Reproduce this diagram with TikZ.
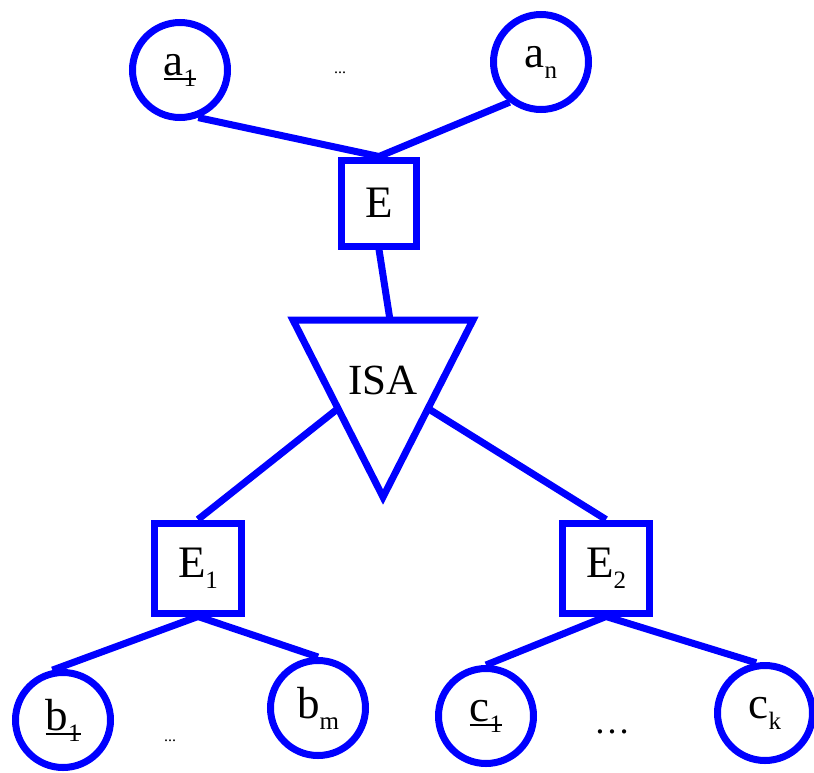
\documentclass[tikz,border=0pt]{standalone}
\usepackage{fontspec}
\setmainfont{Liberation Serif}
\usetikzlibrary{calc}
\newcommand\subs[1]{\raisebox{-11pt}{\fontsize{25}{25}\selectfont #1}}
\newcommand\ulsub[2]{\sbox0{#1\subs{#2}}\rlap{\rule[-5pt]{\wd0}{2pt}}\usebox0}
\begin{document}
\begin{tikzpicture}[x=1pt,y=-1pt,
  txt/.style={font=\fontsize{45}{48}\selectfont},
  ent/.style={draw=blue, line width=7pt, fill=white, inner sep=0pt, txt},
  attr/.style={circle, draw=blue, line width=7pt, fill=white, minimum size=95pt, inner sep=0pt, txt},
  conn/.style={draw=blue, line width=7pt},
  dotsa/.style={font=\fontsize{16}{18}\selectfont, inner sep=0pt}]
\useasboundingbox (0,0) rectangle (814,772);
% attributes of E
\node[attr] (a1) at (180,70) {\ulsub{a}{1}};
\node[attr] (an) at (541,62) {a\subs{n}};
\node[dotsa] (d1) at (340,73) {...};
% entity E
\node[ent, minimum width=75pt, minimum height=86pt] (E) at (379,203) {E};
% ISA triangle
\coordinate (T1) at (293,320);
\coordinate (T2) at (473,320);
\coordinate (T3) at (383,497);
\coordinate (Ttop) at (390,320);
\coordinate (TL) at ($(T1)!0.5!(T3)$);
\coordinate (TR) at ($(T2)!0.5!(T3)$);
\draw[conn, fill=white, line join=miter] (T1) -- (T2) -- (T3) -- cycle;
\node[font=\fontsize{43}{46}\selectfont, inner sep=0pt] (isa) at (383,380) {ISA};
% sub entities
\node[ent, minimum width=87pt, minimum height=90pt] (E1) at (198,568) {E\subs{1}};
\node[ent, minimum width=87pt, minimum height=90pt] (E2) at (606,568) {E\subs{2}};
% attributes of E1, E2
\node[attr] (b1) at (63,720) {\ulsub{b}{1}};
\node[attr] (bm) at (318,708) {b\subs{m}};
\node[dotsa] (d2) at (170,741) {...};
\node[attr] (c1) at (486,716) {\ulsub{c}{1}};
\node[attr] (ck) at (765,713) {c\subs{k}};
\node[font=\fontsize{36}{40}\selectfont, inner sep=0pt] (d3) at (612,732) {…};
% connectors
\draw[conn] (a1.-69) -- (E.north);
\draw[conn] (an.-128) -- (E.north);
\draw[conn] (E.south) -- (Ttop);
\draw[conn] (TL) -- (E1.north);
\draw[conn] (TR) -- (E2.north);
\draw[conn] (E1.south) -- (b1.102);
\draw[conn] (E1.south) -- (bm.north);
\draw[conn] (E2.south) -- (c1.north);
\draw[conn] (E2.south) -- (ck.100);
\end{tikzpicture}
\end{document}
